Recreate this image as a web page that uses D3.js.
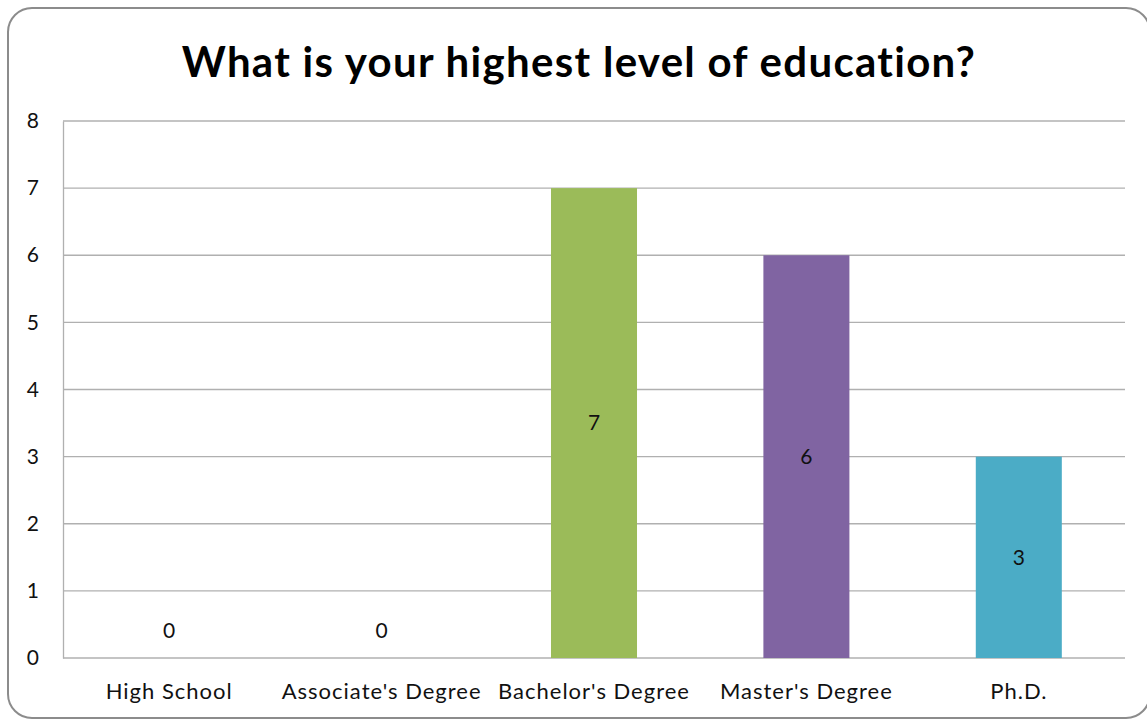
<!DOCTYPE html>
<html>
<head>
<meta charset="utf-8">
<script src="https://cdn.jsdelivr.net/npm/d3@7"></script>
<style>
  html, body { margin: 0; padding: 0; background: #fff; }
  svg { display: block; }
</style>
</head>
<body>
<svg width="1147" height="721"></svg>
<script>
const title = "What is your highest level of education?";
const categories = ["High School", "Associate's Degree", "Bachelor's Degree", "Master's Degree", "Ph.D."];
const counts = [0, 0, 7, 6, 3];
const barColors = ["#4F81BD", "#C0504D", "#9BBB59", "#8064A2", "#4BACC6"];
const yTicks = [0, 1, 2, 3, 4, 5, 6, 7, 8];

const font = "Lato, 'Open Sans', sans-serif";
const svg = d3.select("svg").style("font-family", font);

// chart frame
svg.append("rect")
  .attr("x", 8).attr("y", 8)
  .attr("width", 1142).attr("height", 710)
  .attr("rx", 24)
  .attr("fill", "#fff")
  .attr("stroke", "#8c8c8c")
  .attr("stroke-width", 2);

svg.append("text")
  .attr("x", 579).attr("y", 77)
  .attr("text-anchor", "middle")
  .attr("font-size", 42)
  .attr("font-weight", 700)
  .attr("letter-spacing", 1.3)
  .attr("fill", "#000")
  .text(title);

const plot = { left: 63, right: 1125, top: 121, bottom: 658 };

const x = d3.scaleBand()
  .domain(categories)
  .range([plot.left, plot.right])
  .paddingInner(0.595)
  .paddingOuter(0.2975);

const y = d3.scaleLinear().domain([0, 8]).range([plot.bottom, plot.top]);

// gridlines
svg.append("g")
  .selectAll("line")
  .data(yTicks)
  .join("line")
  .attr("x1", plot.left).attr("x2", plot.right)
  .attr("y1", d => y(d)).attr("y2", d => y(d))
  .attr("stroke", "#b0b0b0")
  .attr("stroke-width", 1.3);

// y axis
const yAxis = svg.append("g")
  .attr("transform", `translate(${plot.left},0)`)
  .call(d3.axisLeft(y).tickValues(yTicks).tickSize(0).tickPadding(24));
yAxis.select(".domain").attr("stroke", "#b0b0b0").attr("stroke-width", 1.3);
yAxis.selectAll("text").attr("font-size", 21).attr("fill", "#111").attr("font-family", font);

// bars
svg.append("g")
  .selectAll("rect")
  .data(categories)
  .join("rect")
  .attr("x", d => x(d))
  .attr("width", x.bandwidth())
  .attr("y", (d, i) => y(counts[i]))
  .attr("height", (d, i) => y(0) - y(counts[i]))
  .attr("fill", (d, i) => barColors[i]);

// value labels
svg.append("g")
  .selectAll("text")
  .data(categories)
  .join("text")
  .attr("x", d => x(d) + x.bandwidth() / 2)
  .attr("y", (d, i) => counts[i] === 0 ? y(0) - 27 : (y(counts[i]) + y(0)) / 2)
  .attr("dy", "0.35em")
  .attr("text-anchor", "middle")
  .attr("font-size", 21)
  .attr("fill", "#111")
  .text((d, i) => counts[i]);

// x axis
const xAxis = svg.append("g")
  .attr("transform", `translate(0,${plot.bottom})`)
  .call(d3.axisBottom(x).tickSize(0).tickPadding(25));
xAxis.select(".domain").remove();
xAxis.selectAll("text")
  .attr("font-size", 22)
  .attr("letter-spacing", 1)
  .attr("fill", "#111")
  .attr("font-family", font);
</script>
</body>
</html>
